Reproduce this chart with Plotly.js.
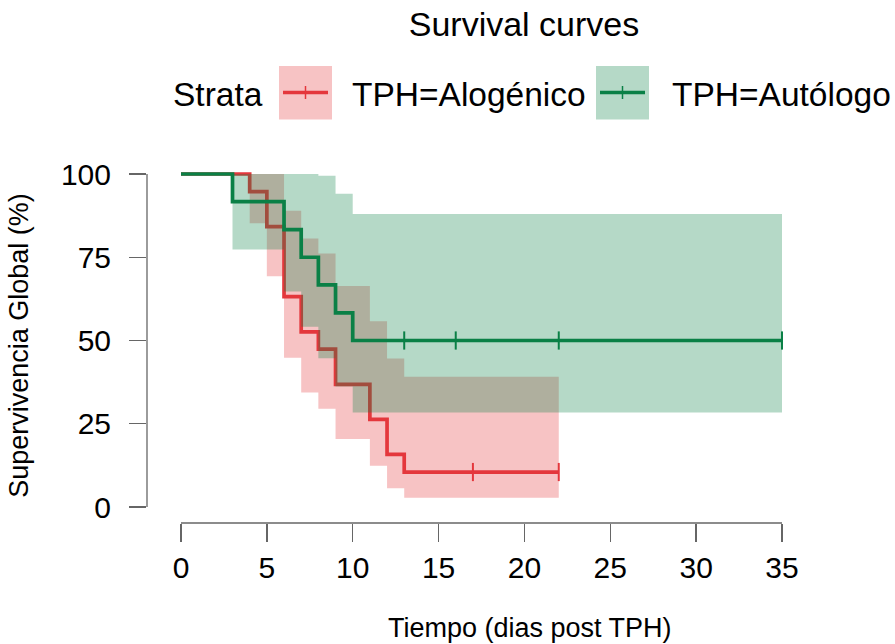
<!DOCTYPE html>
<html>
<head>
<meta charset="utf-8">
<script src="https://cdn.plot.ly/plotly-3.0.1.min.js"></script>
<style>html,body{margin:0;padding:0;background:#fff;}#chart{width:895px;height:644px;}</style>
</head>
<body>
<div id="chart"></div>
<script>
// ---- data ----
const redTime  = [0, 4, 5, 6, 7, 8, 9, 11, 12, 13, 22];
const redSurv  = [100, 94.7, 84.2, 63.2, 52.6, 47.4, 36.8, 26.3, 15.8, 10.5, 10.5];
const redUpper = [100, 100, 100, 89.0, 80.6, 76.1, 66.4, 55.8, 44.6, 39.1, 39.1];
const redLower = [100, 85.2, 69.3, 44.8, 34.4, 29.5, 20.4, 12.4, 5.6, 2.8, 2.8];
const redCensorTime = [17, 22];
const redCensorSurv = [10.5, 10.5];

const greenTime  = [0, 3, 6, 7, 8, 9, 10, 35];
const greenSurv  = [100, 91.7, 83.3, 75.0, 66.7, 58.3, 50.0, 50.0];
const greenUpper = [100, 100, 100, 100, 99.5, 94.1, 88.0, 88.0];
const greenLower = [100, 77.3, 64.7, 54.1, 44.7, 36.2, 28.4, 28.4];
const greenCensorTime = [13, 16, 22, 35];
const greenCensorSurv = [50, 50, 50, 50];

const xTicks = [0, 5, 10, 15, 20, 25, 30, 35];
const yTicks = [0, 25, 50, 75, 100];
const strataNames = ['TPH=Alogénico', 'TPH=Autólogo'];

// ---- styling ----
const RED = 'rgb(228,55,60)';
const RED_FILL = 'rgba(228,55,60,0.3)';
const GREEN = 'rgb(10,128,70)';
const GREEN_FILL = 'rgba(10,128,70,0.3)';
const FONT = 'Liberation Sans, Arial, sans-serif';
const AXIS_COL = '#666666';

const L = 147, R = 105, T = 168, B = 121;
const W = 895 - L - R, H = 644 - T - B;
const pxX = p => (p - L) / W;
const pxY = p => (644 - B - p) / H;

function band(x, lo, hi, fill) {
  return [
    {x: x, y: lo, type: 'scatter', mode: 'lines', line: {shape: 'hv', width: 0, color: 'rgba(0,0,0,0)'}, showlegend: false, hoverinfo: 'skip'},
    {x: x, y: hi, type: 'scatter', mode: 'lines', fill: 'tonexty', fillcolor: fill, line: {shape: 'hv', width: 0, color: 'rgba(0,0,0,0)'}, showlegend: false, hoverinfo: 'skip'}
  ];
}

const traces = [
  ...band(redTime, redLower, redUpper, RED_FILL),
  {x: redTime, y: redSurv, type: 'scatter', mode: 'lines', name: strataNames[0], line: {shape: 'hv', width: 3.7, color: RED}, showlegend: false},
  ...band(greenTime, greenLower, greenUpper, GREEN_FILL),
  {x: greenTime, y: greenSurv, type: 'scatter', mode: 'lines', name: strataNames[1], line: {shape: 'hv', width: 3.7, color: GREEN}, showlegend: false},
  {x: redCensorTime, y: redCensorSurv, type: 'scatter', mode: 'markers', cliponaxis: false, showlegend: false,
   marker: {symbol: 'line-ns', size: 13, color: RED, line: {width: 2, color: RED}}},
  {x: greenCensorTime, y: greenCensorSurv, type: 'scatter', mode: 'markers', cliponaxis: false, showlegend: false,
   marker: {symbol: 'line-ns', size: 13, color: GREEN, line: {width: 2, color: GREEN}}}
];

const shapes = [
  // axis lines limited to data range (base-R style)
  {type: 'line', xref: 'x', yref: 'paper', x0: xTicks[0], x1: xTicks[xTicks.length - 1], y0: 0, y1: 0, line: {color: AXIS_COL, width: 1.3}},
  {type: 'line', xref: 'paper', yref: 'y', x0: 0, x1: 0, y0: yTicks[0], y1: yTicks[yTicks.length - 1], line: {color: AXIS_COL, width: 1.3}},
  // legend keys
  {type: 'rect', xref: 'paper', yref: 'paper', x0: pxX(279), x1: pxX(332), y0: pxY(119.5), y1: pxY(66), fillcolor: RED_FILL, line: {width: 0}},
  {type: 'line', xref: 'paper', yref: 'paper', x0: pxX(283), x1: pxX(328), y0: pxY(92.5), y1: pxY(92.5), line: {color: RED, width: 3.7}},
  {type: 'line', xref: 'paper', yref: 'paper', x0: pxX(305.5), x1: pxX(305.5), y0: pxY(86), y1: pxY(99), line: {color: RED, width: 1.5}},
  {type: 'rect', xref: 'paper', yref: 'paper', x0: pxX(596), x1: pxX(649), y0: pxY(119.5), y1: pxY(66), fillcolor: GREEN_FILL, line: {width: 0}},
  {type: 'line', xref: 'paper', yref: 'paper', x0: pxX(600), x1: pxX(645), y0: pxY(92.5), y1: pxY(92.5), line: {color: GREEN, width: 3.7}},
  {type: 'line', xref: 'paper', yref: 'paper', x0: pxX(622.5), x1: pxX(622.5), y0: pxY(86), y1: pxY(99), line: {color: GREEN, width: 1.5}}
];

const legFont = {family: FONT, size: 33.5, color: '#000'};
const annotations = [
  {text: 'Strata', xref: 'paper', yref: 'paper', x: pxX(171), y: pxY(94), xanchor: 'left', yanchor: 'middle', showarrow: false, font: legFont},
  {text: strataNames[0], xref: 'paper', yref: 'paper', x: pxX(350), y: pxY(94), xanchor: 'left', yanchor: 'middle', showarrow: false, font: legFont},
  {text: strataNames[1], xref: 'paper', yref: 'paper', x: pxX(670), y: pxY(94), xanchor: 'left', yanchor: 'middle', showarrow: false, font: legFont},
  // x-axis title, centred on the full ggplot panel like the reference
  {text: 'Tiempo (dias post TPH)', xref: 'paper', yref: 'paper', x: pxX(530), y: pxY(628), xanchor: 'center', yanchor: 'middle', showarrow: false,
   font: {family: FONT, size: 27, color: '#000'}}
];

const layout = {
  width: 895, height: 644,
  margin: {l: L, r: R, t: T, b: B, pad: 0},
  paper_bgcolor: '#fff', plot_bgcolor: '#fff',
  font: {family: FONT, color: '#000'},
  showlegend: false,
  title: {text: 'Survival curves', font: {family: FONT, size: 34, color: '#000'},
          xref: 'container', yref: 'container', x: 524 / 895, xanchor: 'center', y: 1 - 24 / 644, yanchor: 'middle'},
  xaxis: {
    range: [-(181 - L) / 17.171, -(181 - L) / 17.171 + W / 17.171],
    tickvals: xTicks, ticktext: xTicks.map(String),
    ticks: 'outside', ticklen: 18, tickwidth: 1.3, tickcolor: AXIS_COL,
    showline: false, showgrid: false, zeroline: false,
    tickfont: {family: FONT, size: 30, color: '#000'}
  },
  yaxis: {
    range: [-(644 - B - 507) / 3.33, -(644 - B - 507) / 3.33 + H / 3.33],
    tickvals: yTicks, ticktext: yTicks.map(String),
    ticks: 'outside', ticklen: 17, tickwidth: 1.3, tickcolor: AXIS_COL,
    ticklabelstandoff: 12,
    showline: false, showgrid: false, zeroline: false,
    tickfont: {family: FONT, size: 30, color: '#000'},
    title: {text: 'Supervivencia Global (%)', font: {family: FONT, size: 27, color: '#000'}, standoff: 24}
  },
  shapes: shapes,
  annotations: annotations
};

Plotly.newPlot('chart', traces, layout, {displayModeBar: false, staticPlot: true});
</script>
</body>
</html>
